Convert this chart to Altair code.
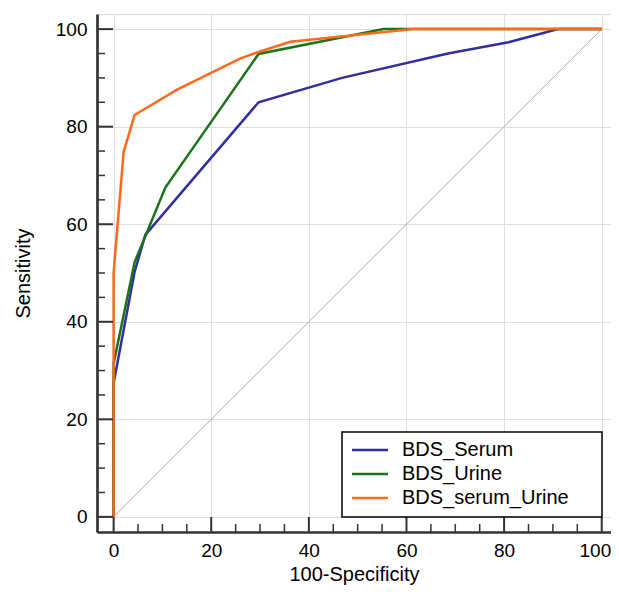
import altair as alt
import pandas as pd

series_names = ["BDS_Serum", "BDS_Urine", "BDS_serum_Urine"]
series_colors = ["#2f2f9f", "#1b721b", "#ff6a1a"]

serum_x = [0, 0, 4.3, 6.5, 29.7, 46.8, 68.5, 80.9, 91.1, 100]
serum_y = [0, 27.4, 50.2, 57.8, 85.0, 90.0, 95.0, 97.3, 100, 100]

urine_x = [0, 0, 4.3, 10.6, 29.7, 55.3, 100]
urine_y = [0, 31.4, 52.2, 67.5, 94.9, 100, 100]

combo_x = [0, 0, 2.05, 4.3, 13.0, 26.0, 29.7, 36.2, 61.4, 100]
combo_y = [0, 49.9, 74.8, 82.4, 87.6, 94.0, 95.3, 97.4, 100, 100]

major_ticks = [0, 20, 40, 60, 80, 100]
minor_ticks = [v for v in range(0, 101, 5) if v % 20 != 0]

diag_x = [0, 100]
diag_y = [0, 100]

rows = []
for name, xs, ys in zip(series_names, [serum_x, urine_x, combo_x], [serum_y, urine_y, combo_y]):
    for i, (a, b) in enumerate(zip(xs, ys)):
        rows.append({"series": name, "x": a, "y": b, "idx": i})
df = pd.DataFrame(rows)
leg_df = pd.DataFrame({"series": series_names})

W, H = 514, 518
XDOM = [-3.4, 101.9]
YDOM = [-3.1, 103.1]
FONT = "Liberation Sans"

xs = alt.Scale(domain=XDOM, nice=False, zero=False)
ys = alt.Scale(domain=YDOM, nice=False, zero=False)
color_scale = alt.Scale(domain=series_names, range=series_colors)

x_axis = alt.Axis(values=major_ticks, title="100-Specificity", grid=True, ticks=False,
                  labelFontSize=19, titleFontSize=20, labelFont=FONT, titleFont=FONT,
                  labelColor="black", titleColor="black", titleFontWeight="normal",
                  labelPadding=9, titlePadding=4, domainColor="#333333", domainWidth=2.7,
                  labelFlush=12, labelFlushOffset=9,
                  gridColor="#dedede", gridWidth=1)
y_axis = alt.Axis(values=major_ticks, title="Sensitivity", grid=True, ticks=False,
                  labelFontSize=19, titleFontSize=20, labelFont=FONT, titleFont=FONT,
                  labelColor="black", titleColor="black", titleFontWeight="normal",
                  labelPadding=10, titlePadding=22, domainColor="#333333", domainWidth=2.7,
                  gridColor="#dedede", gridWidth=1)

diag = alt.Chart(pd.DataFrame({"x": diag_x, "y": diag_y})).mark_line(
    color="#d99a9a", strokeWidth=1
).encode(
    x=alt.X("x:Q", scale=xs, axis=x_axis),
    y=alt.Y("y:Q", scale=ys, axis=y_axis),
)

lines = alt.Chart(df).mark_line(strokeWidth=2.5).encode(
    x=alt.X("x:Q", scale=xs),
    y=alt.Y("y:Q", scale=ys),
    order="idx:Q",
    color=alt.Color("series:N", scale=color_scale, legend=None),
)

xmaj = alt.Chart(pd.DataFrame({"v": major_ticks})).mark_rule(color="#333333", strokeWidth=2).encode(
    x=alt.X("v:Q", scale=xs), y=alt.value(H), y2=alt.value(H - 15))
xmin = alt.Chart(pd.DataFrame({"v": minor_ticks})).mark_rule(color="#333333", strokeWidth=1.5).encode(
    x=alt.X("v:Q", scale=xs), y=alt.value(H), y2=alt.value(H - 8))
ymaj = alt.Chart(pd.DataFrame({"v": major_ticks})).mark_rule(color="#333333", strokeWidth=2).encode(
    y=alt.Y("v:Q", scale=ys), x=alt.value(0), x2=alt.value(16))
ymin = alt.Chart(pd.DataFrame({"v": minor_ticks})).mark_rule(color="#333333", strokeWidth=1.5).encode(
    y=alt.Y("v:Q", scale=ys), x=alt.value(0), x2=alt.value(8))

main = alt.layer(diag, lines, xmaj, xmin, ymaj, ymin)

# legend drawn as marks
leg_y = alt.Y("series:N", scale=alt.Scale(type="point", domain=series_names, range=[436, 484], padding=0), axis=None)
leg_box = alt.Chart(pd.DataFrame({"k": [0]})).mark_rect(
    fill="white", stroke="black", strokeWidth=1.5
).encode(x=alt.value(245), x2=alt.value(505), y=alt.value(418), y2=alt.value(503))
leg_sym = alt.Chart(leg_df).mark_rule(strokeWidth=2.5).encode(
    y=leg_y, x=alt.value(255), x2=alt.value(291),
    color=alt.Color("series:N", scale=color_scale, legend=None),
)
leg_txt = alt.Chart(leg_df).mark_text(
    align="left", baseline="middle", fontSize=20, font=FONT, color="black"
).encode(y=leg_y, x=alt.value(305), text="series:N")
legend = alt.layer(leg_box, leg_sym, leg_txt)

chart = alt.layer(main, legend).resolve_scale(y="independent").properties(
    width=W, height=H,
    autosize=alt.AutoSizeParams(type="none"),
    padding={"left": 89, "top": 6, "right": 0, "bottom": 54},
).configure_view(stroke=None).configure(background="white")

chart.save("out.html", embed_options={"renderer": "svg", "actions": False})
